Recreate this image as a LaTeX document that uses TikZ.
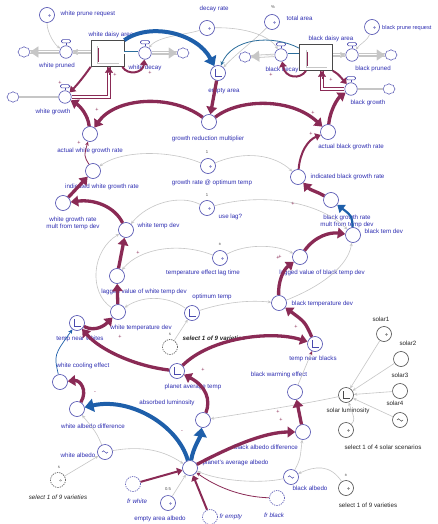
\documentclass[tikz,border=0pt]{standalone}
\usepackage{fontspec}
\setmainfont{Liberation Sans}
\usetikzlibrary{arrows.meta,shapes.symbols,calc}
\definecolor{rim}{HTML}{4A4AAE}
\definecolor{ink}{HTML}{2E2EB2}
\definecolor{wine}{HTML}{8A2A55}
\definecolor{azure}{HTML}{1E5FAA}
\definecolor{teal2}{HTML}{2C6E9C}
\definecolor{lgray}{HTML}{C6C6C6}
\definecolor{dk}{HTML}{4A4A4A}
% faucet handle on top of a flow valve
\newcommand\valvetop[1]{%
  \draw[rim,line width=0.6pt] (#1.north) -- ++(0,-2.5);
  \draw[rim,line width=0.6pt,fill=white,rounded corners=1.2pt]
    ($(#1.north)+(-4.5,-2.5)$) rectangle ($(#1.north)+(4.5,-5.8)$);}
\begin{document}
\begin{tikzpicture}[x=1pt,y=-1pt,
  every node/.style={font=\fontsize{6.2}{6.9}\selectfont},
  aux/.style={circle,draw=rim,fill=white,line width=0.6pt,minimum size=15pt,inner sep=0pt},
  valve/.style={circle,draw=rim,fill=white,line width=0.6pt,minimum size=12.5pt,inner sep=0pt},
  stock/.style={rectangle,draw=dk,fill=white,line width=0.6pt,minimum width=33pt,minimum height=26pt,inner sep=0pt},
  cloudy/.style={cloud,cloud puffs=8,cloud puff arc=115,aspect=1.1,draw=rim,fill=white,line width=0.5pt,minimum width=12pt,minimum height=10.5pt,inner sep=0pt},
  cdot/.style={path picture={\draw[#1,line width=0.45pt] ([xshift=2.5pt,yshift=-0.5pt]path picture bounding box.center) circle (0.9pt);}},
  cdot/.default=rim,
  gph/.style={path picture={\draw[#1,line width=0.6pt] ([xshift=-3pt,yshift=4pt]path picture bounding box.center) -- ++(0pt,-7pt) -- ++(7pt,0pt);}},
  gph/.default=rim,
  tld/.style={path picture={\draw[#1,line width=0.5pt] ([xshift=-3pt]path picture bounding box.center) sin ++(1.5pt,1.2pt) cos ++(1.5pt,-1.2pt) sin ++(1.5pt,-1.2pt) cos ++(1.5pt,1.2pt);}},
  tld/.default=rim,
  ghost/.style={dash pattern=on 1.3pt off 1pt},
  dkc/.style={draw=dk},
  lab/.style={text=ink,inner sep=0.5pt},
  klab/.style={text=black!85,inner sep=0.5pt},
  tinymark/.style={text=black!70,inner sep=0pt,font=\fontsize{4.2}{4.2}\selectfont},
  pol/.style={text=wine,inner sep=0pt,font=\fontsize{5.5}{5.5}\selectfont},
  gc/.style={draw=lgray,line width=0.6pt,-{Stealth[length=3.5pt,width=3pt]}},
  rthin/.style={draw=wine,line width=0.8pt,-{Stealth[length=4pt,width=3.5pt]}},
  rmid/.style={draw=wine,line width=2pt,-{Triangle[length=5.5pt,width=7.5pt]}},
  rthick/.style={draw=wine,line width=3.3pt,-{Triangle[length=7.5pt,width=10.5pt]}},
  bthick/.style={draw=azure,line width=4pt,-{Triangle[length=9pt,width=13pt]}},
  bmid/.style={draw=azure,line width=2.2pt,-{Triangle[length=7pt,width=10pt]}},
  gpipe/.style={draw=lgray,double=white,double distance=1.6pt,line width=0.8pt},
  tpipe/.style={draw=teal2,double=white,double distance=1.6pt,line width=0.7pt},
  rpipe/.style={draw=wine,double=white,double distance=1.6pt,line width=0.9pt},
  flowtip/.style={draw=lgray,line width=0.1pt,-{Triangle[length=8pt,width=11pt]}},
  smalltip/.style={draw=lgray,line width=0.1pt,-{Triangle[length=5pt,width=6pt]}},
  redtip/.style={draw=wine,line width=0.1pt,-{Triangle[length=6pt,width=8pt]}}
]
\useasboundingbox[fill=white] (0,0) rectangle (438,524);

% ---------- stocks ----------
\node[stock] (wda) at (107.5,53.5) {};
\node[stock] (bda) at (316,57.5) {};
\draw[lgray,line width=0.6pt] (97,46) -- (97,63) -- (119,63);
\draw[wine,line width=0.6pt] (98.5,48) -- (98.5,62);
\draw[lgray,line width=0.6pt] (306,50) -- (306,67) -- (327,67);
\draw[wine,line width=0.6pt] (307.5,52) -- (307.5,66);
\node[lab] (wda-l) at (111,35) {white daisy area};
\node[lab] (bda-l) at (331,39) {black daisy area};

% ---------- clouds ----------
\node[cloudy] (wpc) at (24,52) {};
\node[cloudy] (wdc) at (183,53) {};
\node[cloudy] (wgc) at (13,97) {};
\node[cloudy] (bdc) at (245,57) {};
\node[cloudy] (bpc) at (391,55) {};
\node[cloudy] (bgc) at (389,89) {};

% ---------- valves ----------
\node[valve] (wpv) at (66,52) {};
\node[valve] (wdv) at (145,53) {};
\node[valve] (wgv) at (65,97) {};
\node[valve] (bdv) at (281,55) {};
\node[valve] (bpv) at (352,55) {};
\node[valve] (bgv) at (351,89) {};
\node[lab] (wpv-l) at (57,66) {white pruned};
\node[lab] (wdv-l) at (145,68) {white decay};
\node[lab] (wgv-l) at (53,112) {white growth};
\node[lab] (bdv-l) at (282,70) {black decay};
\node[lab] (bpv-l) at (373,69) {black pruned};
\node[lab] (bgv-l) at (368,103) {black growth};

% ---------- pipes ----------
\draw[gpipe] (wda.west |- wpv) -- (wpv);
\draw[smalltip] (wda.west |- wpv) -- (wpv);
\draw[gpipe] (wpv) -- (wpc);
\draw[flowtip] (wpv) -- (wpc);
\draw[tpipe] (wda.east |- wdv) -- (wdv);
\draw[gpipe] (wdv) -- (wdc);
\draw[flowtip] (wdv) -- (wdc);
\draw[lgray,line width=1.4pt] (wgc) -- (wgv);
\coordinate (wgk) at (109,97);
\draw[rpipe] (wgv.east) -- (wgk) -- (wgk |- wda.south);
\draw[redtip] ($(wgk |- wda.south)+(0,8)$) -- (wgk |- wda.south);

\draw[tpipe] (bda.west |- bdv) -- (bdv);
\draw[gpipe] (bdv) -- (bdc);
\draw[flowtip] (bdv) -- (bdc);
\draw[gpipe] (bda.east |- bpv) -- (bpv);
\draw[smalltip] (bda.east |- bpv) -- (bpv);
\draw[gpipe] (bpv) -- (bpc);
\draw[flowtip] (bpv) -- (bpc);
\draw[lgray,line width=1.4pt] (bgc) -- (bgv);
\coordinate (bgk) at (322,89);
\draw[rpipe] (bgv.west) -- (bgk) -- (bgk |- bda.south);
\draw[redtip] ($(bgk |- bda.south)+(0,8)$) -- (bgk |- bda.south);

\foreach \v in {wpv,wdv,wgv,bdv,bpv,bgv} {\valvetop{\v}}

% ---------- converters ----------
\node[aux,cdot] (wpr) at (47,15) {};
\node[lab,anchor=west] (wpr-l) at (60,14) {white prune request};
\node[aux,cdot] (dr) at (207,28) {};
\node[lab,anchor=west] (dr-l) at (199,9) {decay rate};
\node[aux,cdot] (ta) at (272,22) {};
\node[lab,anchor=west] (ta-l) at (286,18) {total area};
\node[tinymark] (ta-m) at (273,7) {\%};
\node[aux,cdot] (bpr) at (372,27) {};
\node[lab,anchor=west,font=\fontsize{5.6}{6.2}\selectfont] (bpr-l) at (381.5,28) {black prune request};

\node[aux,gph] (ea) at (218,73) {};
\node[lab] (ea-l) at (224,91) {empty area};
\node[aux] (grm) at (209,122) {};
\node[lab] (grm-l) at (208,139) {growth reduction multiplier};
\node[aux] (awgr) at (90,134) {};
\node[lab] (awgr-l) at (90,151) {actual white growth rate};
\node[aux] (abgr) at (328,132) {};
\node[lab] (abgr-l) at (351,147) {actual black growth rate};
\node[aux,cdot] (gro) at (208,166) {};
\node[lab] (gro-l) at (212,183) {growth rate @ optimum temp};
\node[tinymark] (gro-m) at (207,152) {1};
\node[aux] (iwgr) at (93,171) {};
\node[lab] (iwgr-l) at (102,187) {indicated white growth rate};
\node[aux] (ibgr) at (298,177) {};
\node[lab,anchor=west] (ibgr-l) at (310,177) {indicated black growth rate};
\node[aux] (wgrm) at (63,203) {};
\node[lab,align=center] (wgrm-l) at (73,223) {white growth rate\\mult from temp dev};
\node[aux] (wtd) at (126,230) {};
\node[lab,anchor=west] (wtd-l) at (137,226) {white temp dev};
\node[aux,cdot] (ul) at (207,208) {};
\node[lab,anchor=west] (ul-l) at (218,217) {use lag?};
\node[tinymark] (ul-m) at (207,195) {1};
\node[aux] (bgrm) at (331,200) {};
\node[lab,align=center] (bgrm-l) at (347,221) {black growth rate\\mult from temp dev};
\node[aux] (btd) at (353,235) {};
\node[lab,anchor=west] (btd-l) at (364,231) {black tem dev};
\node[aux,cdot] (tel) at (220,258) {};
\node[lab] (tel-l) at (203,273) {temperature effect lag time};
\node[tinymark] (tel-m) at (220,244) {±};
\node[aux] (lvw) at (117,276) {};
\node[lab] (lvw-l) at (144,292) {lagged value of white temp dev};
\node[aux] (lvb) at (300,257) {};
\node[lab] (lvb-l) at (322,273) {lagged value of black temp dev};
\node[aux,gph] (ot) at (192,313) {};
\node[lab] (ot-l) at (212,297) {optimum temp};
\node[aux] (wtmp) at (118,312) {};
\node[lab] (wtmp-l) at (141,328) {white temperature dev};
\node[aux] (btmp) at (279,303) {};
\node[lab,anchor=west] (btmp-l) at (291,304) {black temperature dev};
\node[aux,gph] (tnw) at (77,323) {};
\node[lab] (tnw-l) at (80,339) {temp near whites};
\node[aux,dkc,ghost] (s9a) at (170,347) {};
\node[klab,anchor=west,font=\fontsize{6.2}{6.9}\selectfont\itshape\bfseries] (s9a-l) at (182,338) {select 1 of 9 varieties};
\node[tinymark] (s9a-m) at (170,334) {s};
\node[aux,gph] (pat) at (177,371) {};
\node[lab] (pat-l) at (193,387) {planet average temp};
\node[aux,gph] (tnb) at (315,344) {};
\node[lab] (tnb-l) at (313,359) {temp near blacks};
\node[aux] (wce) at (60,382) {};
\node[lab] (wce-l) at (83,366) {white cooling effect};
\node[aux] (bwe) at (295,392) {};
\node[lab] (bwe-l) at (279,375) {black warming effect};
\node[aux] (wad) at (77,409) {};
\node[lab] (wad-l) at (93,426) {white albedo difference};
\node[aux] (al) at (203,420) {};
\node[lab] (al-l) at (167,403) {absorbed luminosity};
\node[aux] (bad) at (303,432) {};
\node[lab] (bad-l) at (266,447) {black albedo difference};
\node[aux] (paa) at (190,468) {};
\node[lab,anchor=west] (paa-l) at (202,463) {planet's average albedo};
\node[aux,tld] (wa) at (105,452) {};
\node[lab] (wa-l) at (78,455) {white albedo};
\node[aux,dkc,ghost,cdot=dk] (s9l) at (58,480) {};
\node[klab,font=\fontsize{6.2}{6.9}\selectfont\itshape] (s9l-l) at (58,497) {select 1 of 9 varieties};
\node[tinymark] (s9l-m) at (59,467) {s};
\node[aux,ghost] (frw) at (133,484) {};
\node[lab,font=\fontsize{6.2}{6.9}\selectfont\itshape] (frw-l) at (137,501) {fr white};
\node[aux,cdot] (eaa) at (168,503) {};
\node[lab] (eaa-l) at (160,519) {empty area albedo};
\node[tinymark] (eaa-m) at (168,489) {0.5};
\node[aux,ghost] (fre) at (210,517) {};
\node[lab,anchor=west,font=\fontsize{6.2}{6.9}\selectfont\itshape] (fre-l) at (219,517) {fr empty};
\node[aux,ghost] (frb) at (277,498) {};
\node[lab,font=\fontsize{6.2}{6.9}\selectfont\itshape] (frb-l) at (274,515) {fr black};
\node[aux,tld] (ba) at (291,477) {};
\node[lab] (ba-l) at (310,488) {black albedo};
\node[aux,dkc,cdot=dk] (s9r) at (346,488) {};
\node[klab] (s9r-l) at (368,505) {select 1 of 9 varieties};
\node[tinymark] (s9r-m) at (346,475) {±};
\node[aux,dkc,gph=dk] (sl) at (346,395) {};
\node[klab] (sl-l) at (348,411) {solar luminosity};
\node[aux,dkc,cdot=dk] (ssel) at (346,430) {};
\node[klab] (ssel-l) at (383,447) {select 1 of 4 solar scenarios};
\node[aux,dkc,cdot=dk] (sol1) at (384,334) {};
\node[klab] (sol1-l) at (381,319) {solar1};
\node[aux,dkc] (sol2) at (401,359) {};
\node[klab] (sol2-l) at (408,343) {solar2};
\node[aux,dkc] (sol3) at (400,391) {};
\node[klab] (sol3-l) at (400,375) {solar3};
\node[aux,dkc,tld=dk] (sol4) at (400,420) {};
\node[klab] (sol4-l) at (395,403) {solar4};

% ---------- information connectors (gray) ----------
\draw[gc] (wpr) .. controls (47,33) and (55,45) .. (wpv);
\draw[gc] (dr) .. controls (185,35) and (158,36) .. (wdv);
\draw[gc] (dr) .. controls (245,27) and (270,36) .. (bdv);
\draw[gc] (ta) .. controls (255,40) and (238,52) .. (ea);
\draw[gc] (bpr) .. controls (368,40) and (360,44) .. (bpv);
\draw[gc] (gro) .. controls (170,150) and (122,150) .. (iwgr);
\draw[gc] (gro) .. controls (245,150) and (275,155) .. (ibgr);
\draw[gc] (ul) .. controls (180,194) and (148,203) .. (wtd);
\draw[gc] (ul) .. controls (255,194) and (315,198) .. (btd);
\draw[gc] (tel) .. controls (180,242) and (140,248) .. (lvw);
\draw[gc] (tel) .. controls (245,244) and (275,244) .. (lvb);
\draw[gc] (wtmp) .. controls (88,292) and (92,250) .. (wtd);
\draw[gc] (btmp) .. controls (322,286) and (348,266) .. (btd);
\draw[gc] (ot) .. controls (170,297) and (145,294) .. (wtmp);
\draw[gc] (ot) .. controls (225,302) and (250,300) .. (btmp);
\draw[gc] (s9a) -- (ot);
\draw[gc] (sl) .. controls (300,405) and (240,414) .. (al);
\draw[gc] (wa) .. controls (150,444) and (170,455) .. (paa);
\draw[gc] (wa) .. controls (96,432) .. (wad);
\draw[gc] (s9l) -- (wa);
\draw[gc] (eaa) -- (paa);
\draw[gc] (ba) .. controls (260,484) and (220,481) .. (paa);
\draw[gc] (ba) .. controls (300,460) .. (bad);
\draw[gc] (s9r) .. controls (330,464) and (315,466) .. (ba);
\draw[gc] (sol1) -- (sl);
\draw[gc] (sol2) -- (sl);
\draw[gc] (sol3) -- (sl);
\draw[gc] (sol4) -- (sl);
\draw[gc] (ssel) .. controls (355,420) .. (sl);
\draw[draw=lgray,line width=0.6pt,-{Stealth[length=4pt,width=3.5pt,color=wine]}] (bwe) -- (tnb);

% ---------- causal connectors ----------
\draw[rmid] (wda.south west) .. controls (85,75) and (78,84) .. (wgv);
\draw[rthick] (awgr) .. controls (88,115) and (80,106) .. (wgv);
\draw[rmid] ([xshift=-2pt]wda.south east) .. controls (128,76) and (143,73) .. (wdv);
\draw[rmid] ([xshift=-10pt]bda.south) .. controls (300,80) and (285,78) .. (bdv);
\draw[rmid] (bda.south east) .. controls (338,74) .. (bgv);
\draw[rthick] (abgr) .. controls (330,110) and (338,98) .. (bgv);
\draw[rthick] (grm) .. controls (170,93) and (115,98) .. (awgr);
\draw[rthick] (grm) .. controls (240,98) and (292,98) .. (abgr);
\draw[rthick] (ea) -- (grm);
\draw[rthin] (iwgr) .. controls (84,156) .. (awgr);
\draw[rmid] (ibgr) .. controls (300,152) and (308,140) .. (abgr);
\draw[rthick] (wgrm) -- (iwgr);
\draw[rthick] (wtd) .. controls (115,207) and (95,199) .. (wgrm);
\draw[rthick] (bgrm) .. controls (318,192) and (310,190) .. (ibgr);
\draw[rthick] (lvw) -- (wtd);
\draw[rthick] (wtmp) -- (lvw);
\draw[rthick] (btmp) .. controls (278,282) and (283,270) .. (lvb);
\draw[rthick] (lvb) .. controls (315,236) and (330,232) .. (btd);
\draw[rthick] (tnw) .. controls (95,332) and (104,326) .. (wtmp);
\draw[rthick] (pat) .. controls (135,366) and (100,350) .. (tnw);
\draw[rthick] (pat) .. controls (210,338) and (270,330) .. (tnb);
\draw[rthick] (tnb) .. controls (305,322) .. (btmp);
\draw[rthick] (al) .. controls (211,400) and (206,386) .. (pat);
\draw[rthick] (wad) .. controls (88,390) and (80,380) .. (wce);
\draw[rthick] (paa) .. controls (232,446) and (265,432) .. (bad);
\draw[rthick] (bad) -- (bwe);
\draw[rmid] (frw) -- (paa);
\draw[rmid] (fre) -- (paa);
\draw[rthin] (frb) .. controls (240,497) and (215,486) .. (paa);

\draw[bthick] (wda.north east) .. controls (150,22) and (197,33) .. (ea);
\draw[draw=teal2,line width=0.8pt,-{Stealth[length=4.5pt,width=4pt]}] ([yshift=-4pt]bda.north west) .. controls (272,34) and (232,38) .. (ea);
\draw[bmid] (btd) .. controls (352,216) .. (bgrm);
\draw[draw=azure,line width=0.7pt,-{Stealth[length=4.5pt,width=4pt]}] (wce) .. controls (54,355) .. (tnw);
\draw[bthick] (paa) .. controls (178,425) and (130,397) .. (wad);
\draw[bthick] (paa) .. controls (193,448) and (200,438) .. (al);

% ---------- polarity marks ----------
\node[pol] (p1) at (60,83) {+};
\node[pol] (p2) at (115,75) {+};
\node[pol] (p3) at (150,73) {+};
\node[pol] (p4) at (97,110) {+};
\node[pol] (p5) at (271,75) {+};
\node[pol] (p6) at (331,80) {+};
\node[pol] (p7) at (79,143) {+};
\node[pol] (p8) at (313,113) {+};
\node[pol] (p9) at (311,134) {+};
\node[pol] (p10) at (138,253) {+};
\node[pol] (p11) at (120,337) {+};
\node[pol] (p12) at (280,257) {+};
\node[pol] (p13) at (296,327) {+};
\node[pol] (p14) at (203,370) {+};
\node[pol] (p15) at (95,393) {-};
\node[pol] (p16) at (182,432) {-};
\node[pol] (p17) at (278,412) {+};
\node[pol] (p18) at (281,420) {+};
\node[pol] (p19) at (293,204) {+};
\node[pol] (p20) at (278,258) {+};
\end{tikzpicture}
\end{document}
